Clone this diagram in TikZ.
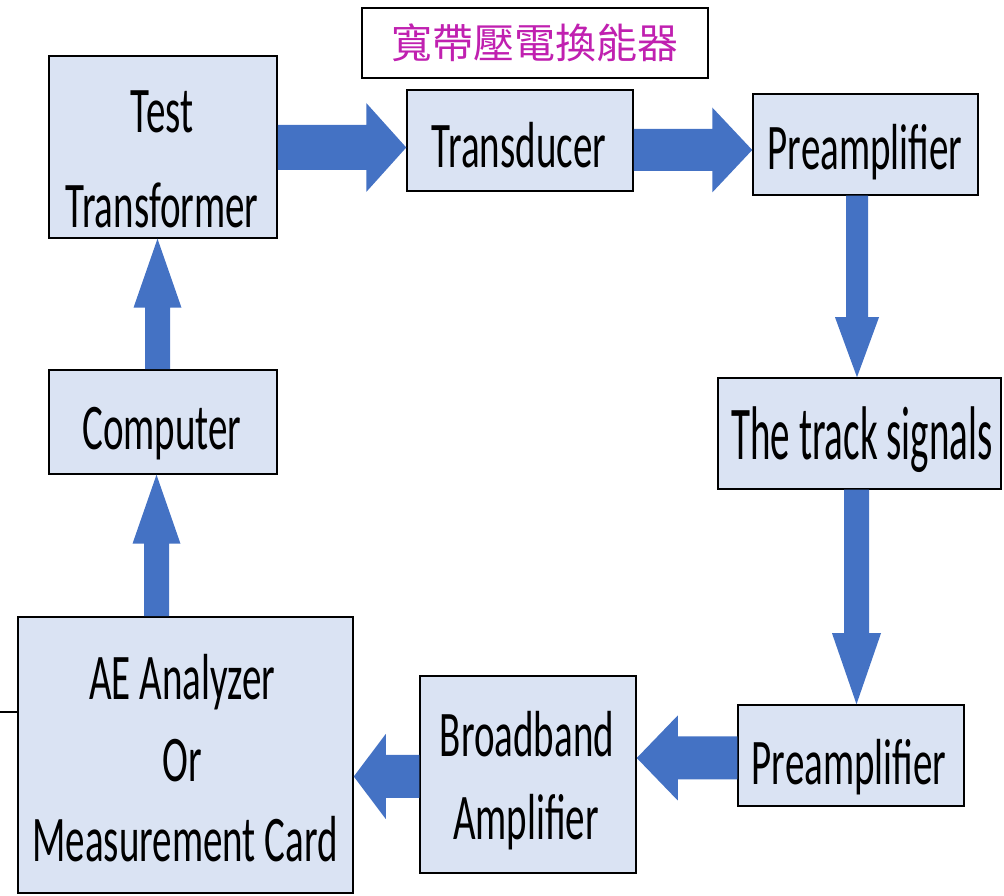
\documentclass[tikz,border=0pt]{standalone}
\usepackage{fontspec}
\setmainfont{Carlito}
\newfontfamily\cjk{Noto Sans CJK TC}
\usetikzlibrary{calc}
\definecolor{boxfill}{RGB}{218,227,243}
\definecolor{arrowc}{RGB}{68,114,196}
\definecolor{cnmag}{RGB}{192,32,176}
\newcommand\vst[2][1.67]{\scalebox{1}[#1]{#2}}
% horizontal block arrow: from, to, yc, half shaft, half head, head length (signed)
\newcommand\HBlk[6]{\fill[blockarrow] let \p1=(#1), \p2=(#2) in
  ({\x1},{#3pt+#4pt}) -- ({\x2-(#6pt)},{#3pt+#4pt}) -- ({\x2-(#6pt)},{#3pt+#5pt}) --
  ({\x2},{#3pt}) -- ({\x2-(#6pt)},{#3pt-#5pt}) -- ({\x2-(#6pt)},{#3pt-#4pt}) --
  ({\x1},{#3pt-#4pt}) -- cycle;}
% vertical block arrow: from, to, xc, half shaft, half head, head length (signed)
\newcommand\VBlk[6]{\fill[blockarrow] let \p1=(#1), \p2=(#2) in
  ({#3pt-#4pt},{\y1}) -- ({#3pt-#4pt},{\y2+(#6pt)}) -- ({#3pt-#5pt},{\y2+(#6pt)}) --
  ({#3pt},{\y2}) -- ({#3pt+#5pt},{\y2+(#6pt)}) -- ({#3pt+#4pt},{\y2+(#6pt)}) --
  ({#3pt+#4pt},{\y1}) -- cycle;}
\tikzset{
  blk/.style={draw=black, line width=1.5pt, fill=boxfill, inner sep=0pt},
  lbl/.style={anchor=base, inner sep=0pt, font=\fontsize{39}{47}\selectfont, text=black},
  blockarrow/.style={fill=arrowc},
}
\begin{document}
\begin{tikzpicture}[x=1pt,y=1pt]
\useasboundingbox (0,0) rectangle (1004,896);
% boxes
\node[blk, minimum width=228pt, minimum height=182pt] (tt) at (163,749) {};
\node[blk, minimum width=226pt, minimum height=101pt] (td) at (520,755.5) {};
\node[blk, minimum width=225pt, minimum height=101pt] (pa1) at (865.5,751.5) {};
\node[blk, minimum width=283pt, minimum height=111pt] (trk) at (859.5,462.5) {};
\node[blk, minimum width=226pt, minimum height=101pt] (pa2) at (851,140.5) {};
\node[blk, minimum width=216pt, minimum height=197pt] (bb) at (528,121.5) {};
\node[blk, minimum width=335pt, minimum height=276pt] (ae) at (185.5,141) {};
\node[blk, minimum width=228pt, minimum height=104pt] (cp) at (163,474) {};
\node[draw=black, line width=1.5pt, fill=white, minimum width=346pt, minimum height=70pt,
      font=\cjk\fontsize{41}{49}\selectfont, text=cnmag] (cn) at (535,853) {寬帶壓電換能器};
% texts
\node[lbl] (ttA) at (162,763) {\vst{Test}};
\node[lbl] (ttB) at (162,668) {\vst{Transformer}};
\node[lbl] (tdA) at (519,728) {\vst{Transducer}};
\node[lbl] (pa1A) at (865,726) {\vst{Preamplifier}};
\node[lbl] (trkA) at (862,436) {\vst[1.95]{The track signals}};
\node[lbl] (cpA) at (162,446) {\vst{Computer}};
\node[lbl] (aeA) at (182,196) {\vst{AE Analyzer}};
\node[lbl] (aeB) at (182,114) {\vst{Or}};
\node[lbl] (aeC) at (185,34) {\vst{Measurement Card}};
\node[lbl] (bbA) at (527,139) {\vst{Broadband}};
\node[lbl] (bbB) at (526,56) {\vst{Amplifier}};
\node[lbl] (pa2A) at (849,111) {\vst{Preamplifier}};
% arrows
\HBlk{tt.east}{td.west}{748.5}{22.5}{44.5}{40}
\HBlk{td.east}{pa1.west}{746}{21}{42.5}{40}
\VBlk{pa1.south}{trk.north}{857}{11}{22}{60}
\VBlk{trk.south}{pa2.north}{856.5}{12.5}{24.5}{71}
\HBlk{pa2.west}{bb.east}{138}{21.5}{42.5}{-41}
\HBlk{bb.west}{ae.east}{119.5}{21.5}{42.5}{-32}
\VBlk{ae.north}{cp.south}{156.5}{12.5}{24}{-69}
\VBlk{cp.north}{tt.south}{157.5}{12.5}{24}{-69}
% left stub line
\coordinate (lft) at (0,184);
\draw[line width=1.4pt] (lft) -- (lft -| ae.west);
\end{tikzpicture}
\end{document}
